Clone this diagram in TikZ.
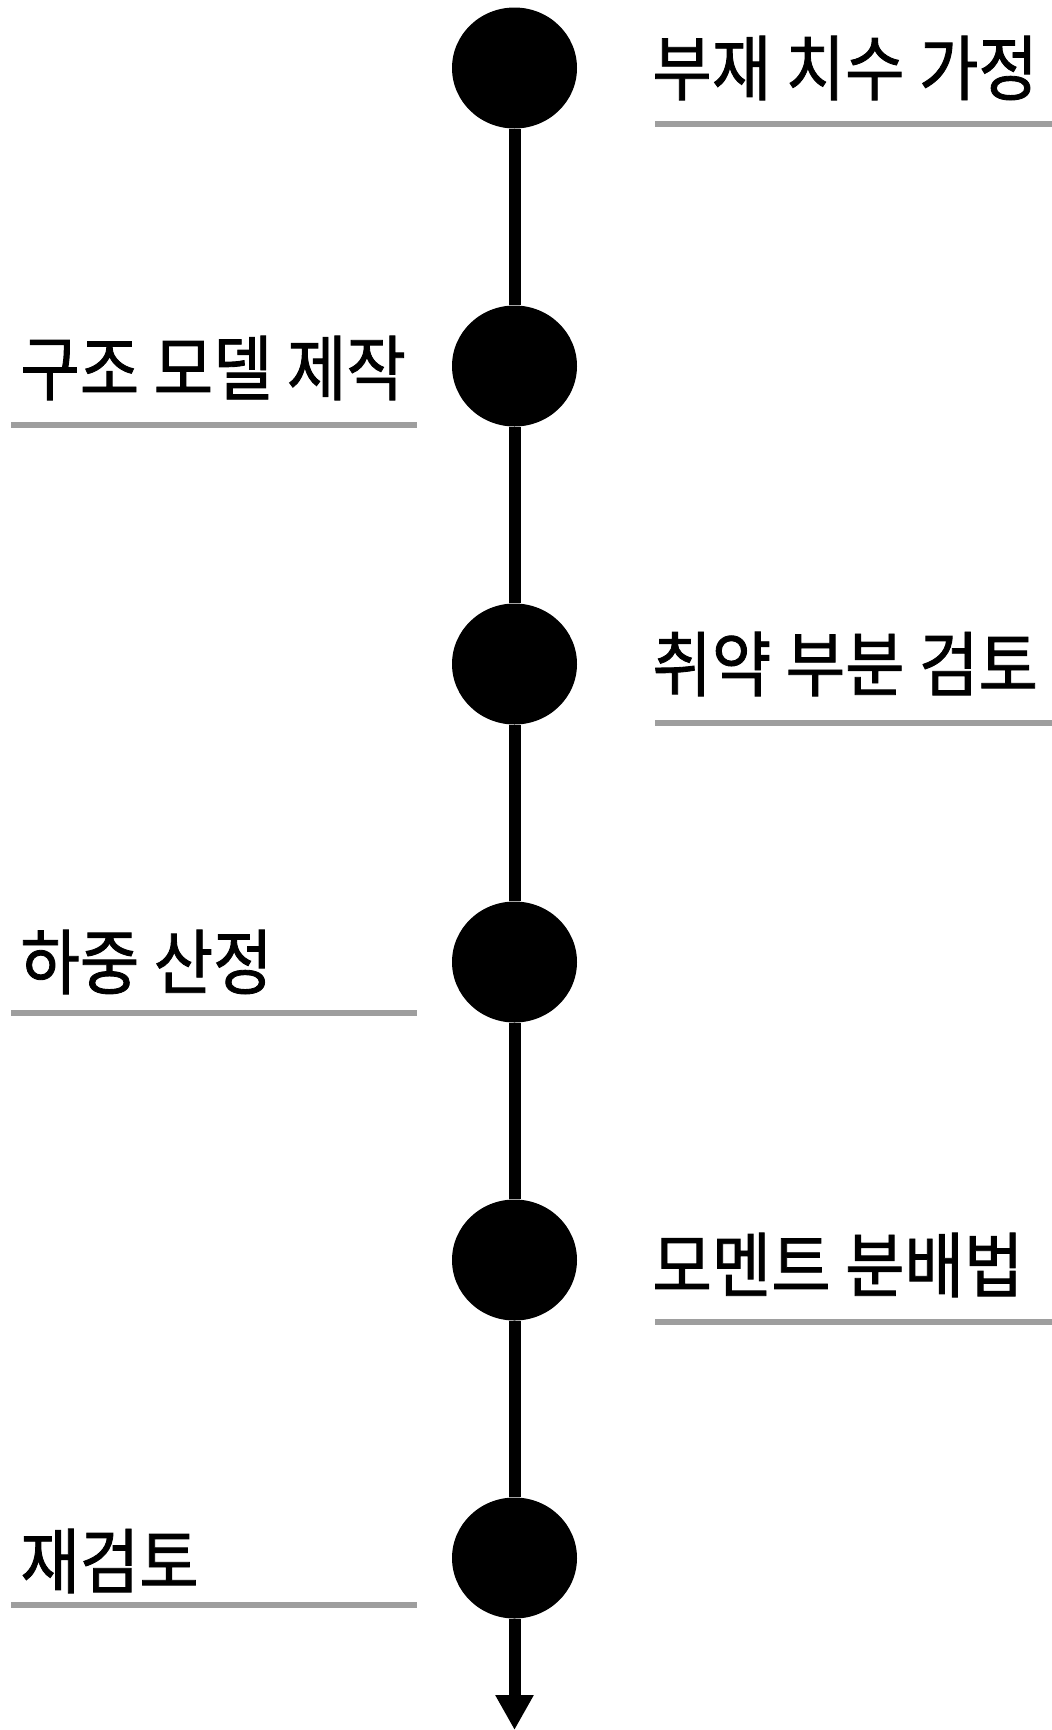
\documentclass[tikz,border=0pt]{standalone}
\usepackage{fontspec}
\newfontfamily\kr[FakeStretch=0.91,FakeBold=1.2]{Noto Sans CJK KR}
\usetikzlibrary{arrows.meta,shapes.geometric}
\begin{document}
\begin{tikzpicture}[x=0.5pt,y=-0.5pt,
  dot/.style={ellipse,fill=black,minimum width=62.5pt,minimum height=60.5pt,inner sep=0pt},
  conn/.style={line width=6pt,black},
  lbl/.style={font=\kr\fontsize{35.5pt}{40pt}\selectfont,inner sep=0pt},
  uline/.style={line width=3pt,color=black!38}]
\useasboundingbox (0,0) rectangle (1052,1730);
% dots
\node[dot] (c1) at (514.5,68) {};
\node[dot] (c2) at (514.5,366) {};
\node[dot] (c3) at (514.5,664) {};
\node[dot] (c4) at (514.5,962) {};
\node[dot] (c5) at (514.5,1260) {};
\node[dot] (c6) at (514.5,1558) {};
\coordinate (endp) at (514.5,1730);
% connectors
\draw[conn] (c1) -- (c2);
\draw[conn] (c2) -- (c3);
\draw[conn] (c3) -- (c4);
\draw[conn] (c4) -- (c5);
\draw[conn] (c5) -- (c6);
\draw[conn,-{Triangle[width=18pt,length=17.5pt]}] (c6) -- (endp);
% labels
\node[lbl,anchor=west] (t1) at (652,68) {부재 치수 가정};
\node[lbl,anchor=west] (t2) at (20,368) {구조 모델 제작};
\node[lbl,anchor=west] (t3) at (652,664) {취약 부분 검토};
\node[lbl,anchor=west] (t4) at (20,962) {하중 산정};
\node[lbl,anchor=west] (t5) at (652,1265) {모멘트 분배법};
\node[lbl,anchor=west] (t6) at (20,1561) {재검토};
% underlines
\draw[uline] (655,124) -- (1052,124);
\draw[uline] (11,425) -- (417,425);
\draw[uline] (655,723) -- (1052,723);
\draw[uline] (11,1013) -- (417,1013);
\draw[uline] (655,1322) -- (1052,1322);
\draw[uline] (11,1605) -- (417,1605);
\end{tikzpicture}
\end{document}
